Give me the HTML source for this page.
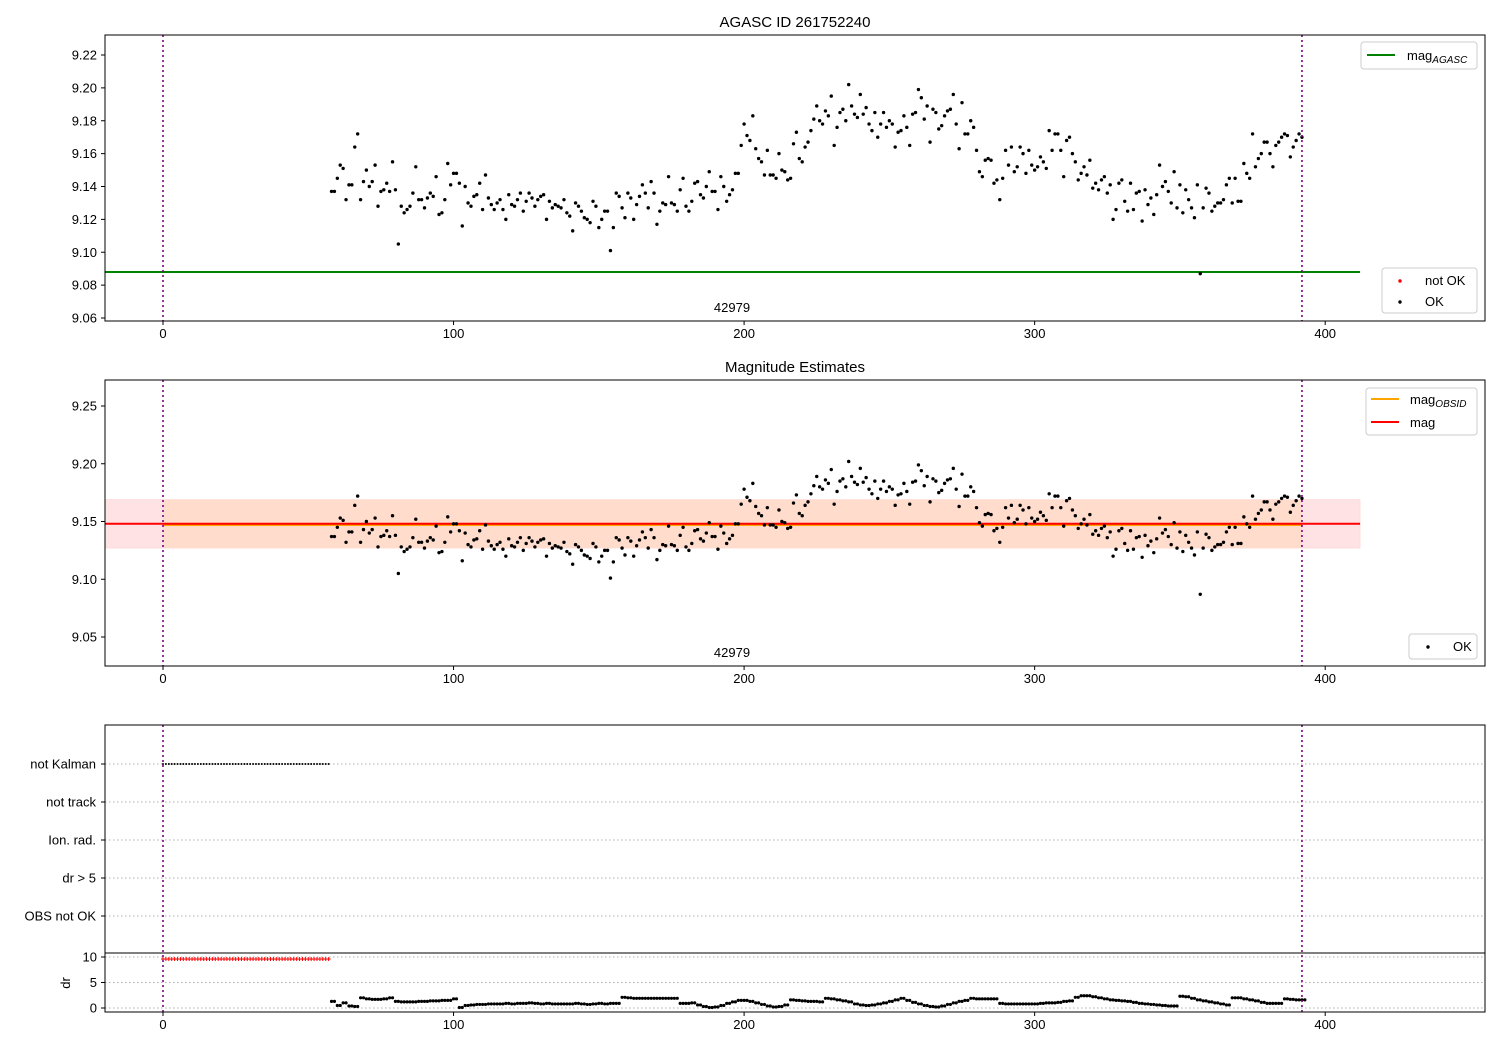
<!DOCTYPE html>
<html><head><meta charset="utf-8"><style>
body{margin:0;background:#fff;}
svg{display:block;font-family:"Liberation Sans","DejaVu Sans",sans-serif;}
</style></head><body>
<svg id="fig" width="1500" height="1050" xmlns="http://www.w3.org/2000/svg"></svg>
<script>
const magStart = 58, magEnd = 392;
const mags = [9.137,9.137,9.145,9.153,9.151,9.132,9.141,9.141,9.164,9.172,9.132,9.143,
9.150,9.140,9.143,9.153,9.128,9.137,9.138,9.142,9.137,9.155,9.138,
9.105,9.128,9.124,9.126,9.128,9.136,9.152,9.132,9.132,9.127,9.133,
9.136,9.134,9.146,9.123,9.124,9.132,9.154,9.141,9.148,9.148,9.142,
9.116,9.140,9.130,9.128,9.134,9.135,9.142,9.126,9.147,9.133,9.129,
9.126,9.130,9.132,9.126,9.120,9.135,9.129,9.128,9.132,9.136,
9.125,9.131,9.136,9.133,9.128,9.132,9.134,9.135,9.120,9.131,9.127,
9.129,9.128,9.127,9.132,9.124,9.122,9.113,9.130,9.128,9.125,9.121,
9.120,9.118,9.131,9.128,9.115,9.120,9.125,9.125,9.101,9.115,
9.136,9.134,9.127,9.121,9.136,9.133,9.120,9.129,9.134,9.141,9.136,
9.127,9.143,9.136,9.117,9.125,9.130,9.129,9.146,9.130,9.129,
9.125,9.138,9.145,9.128,9.125,9.131,9.142,9.143,9.135,9.133,9.140,
9.149,9.137,9.137,9.126,9.146,9.140,9.131,9.135,9.138,9.148,
9.148,9.165,9.178,9.171,9.168,9.183,9.163,9.157,9.155,9.147,
9.162,9.147,9.147,9.145,9.160,9.150,9.149,9.144,9.145,9.166,
9.173,9.157,9.155,9.164,9.167,9.174,9.181,9.189,9.180,9.178,
9.186,9.183,9.195,9.165,9.176,9.185,9.187,9.180,9.202,9.189,9.184,
9.182,9.196,9.184,9.188,9.178,9.174,9.185,9.170,9.178,9.185,
9.176,9.180,9.178,9.164,9.173,9.174,9.183,9.176,9.165,9.184,
9.185,9.199,9.194,9.181,9.189,9.167,9.187,9.185,9.175,9.177,9.183,
9.186,9.187,9.196,9.178,9.163,9.191,9.172,9.172,9.180,9.176,
9.162,9.149,9.146,9.156,9.157,9.156,9.142,9.144,9.132,9.145,
9.162,9.153,9.164,9.149,9.152,9.164,9.160,9.148,9.162,9.153,9.150,
9.152,9.158,9.155,9.151,9.174,9.162,9.172,9.172,9.162,9.146,
9.168,9.170,9.160,9.155,9.144,9.148,9.152,9.147,9.156,9.139,9.142,
9.138,9.144,9.146,9.136,9.141,9.120,9.126,9.142,9.144,9.131,
9.125,9.142,9.126,9.136,9.137,9.119,9.138,9.129,9.133,9.123,9.135,
9.153,9.140,9.143,9.137,9.130,9.149,9.127,9.141,9.124,9.138,
9.132,9.127,9.121,9.141,9.087,9.127,9.139,9.136,9.125,9.128,
9.130,9.130,9.132,9.141,9.145,9.130,9.145,9.131,9.131,9.154,
9.148,9.145,9.172,9.152,9.157,9.160,9.167,9.167,9.160,9.152,
9.165,9.167,9.170,9.172,9.171,9.158,9.164,9.168,9.172,9.170];
const drVals = [1.3,0.5,1.0,0.4,0.3,2.0,1.8,1.7,1.7,1.8,2.0,1.3,1.2,1.2,1.2,1.3,1.3,1.4,1.4,1.5,1.5,1.8,0.1,0.5,0.6,0.7,0.7,0.8,0.8,0.8,0.9,0.8,0.9,0.9,1.0,0.9,0.8,0.9,0.8,0.8,0.8,0.8,0.9,0.8,0.7,0.8,0.9,0.8,0.9,0.9,2.1,2.0,1.9,1.9,1.9,1.9,1.9,1.9,1.9,1.9,0.9,0.9,1.0,0.6,0.3,0.1,0.2,0.5,0.9,1.2,1.5,1.5,1.3,1.0,0.7,0.4,0.2,0.3,0.6,1.6,1.5,1.4,1.3,1.3,1.2,1.9,1.8,1.6,1.4,1.2,0.8,0.6,0.5,0.6,0.8,1.0,1.3,1.6,1.9,1.5,1.1,0.8,0.5,0.3,0.2,0.4,0.7,1.0,1.3,1.5,1.9,1.8,1.8,1.8,1.8,0.9,0.8,0.8,0.8,0.8,0.8,0.8,0.9,1.0,1.0,1.1,1.3,1.4,2.1,2.4,2.4,2.2,2.0,1.8,1.6,1.5,1.4,1.3,1.1,0.9,0.8,0.7,0.6,0.5,0.4,0.4,2.3,2.2,1.9,1.6,1.4,1.2,1.0,0.8,0.6,2.0,2.0,1.8,1.6,1.4,1.1,0.9,0.9,0.9,1.8,1.7,1.6,1.6];
const notKalmanStart = 0, notKalmanEnd = 57;
const notKalmanDr = 9.6;
const magAgasc = 9.088;
const magObsid = 9.148;
const magBandLo = 9.127, magBandHi = 9.169;
const categories = ["not Kalman","not track","Ion. rad.","dr > 5","OBS not OK"];
const xTicks = [0,100,200,300,400];
const y1Ticks = [9.06,9.08,9.10,9.12,9.14,9.16,9.18,9.20,9.22];
const y2Ticks = [9.05,9.10,9.15,9.20,9.25];
const drTicks = [0,5,10];

const NS="http://www.w3.org/2000/svg";
const svg=document.getElementById('fig');
function el(tag,attrs,parent){const e=document.createElementNS(NS,tag);for(const k in attrs)e.setAttribute(k,attrs[k]);(parent||svg).appendChild(e);return e;}
function txt(s,attrs){const t=el('text',attrs);t.textContent=s;return t;}
const L=105,R=1485;
const xs=v=>163+(v)*2.9055;
const y1=v=>55+(9.22-v)/0.02*32.875;
const y2=v=>406+(9.25-v)/0.05*57.75;
const yd=v=>1008-v*5.1;

function frame(top,bot,name){const r=el('rect',{x:L,y:top,width:R-L,height:bot-top,fill:'none',stroke:'#000','stroke-width':1});}
function xticks(bot,name){const g=el('g',{});
 xTicks.forEach(v=>{el('line',{x1:xs(v),x2:xs(v),y1:bot,y2:bot+4,stroke:'#000'},g);const t=el('text',{x:xs(v),y:bot+17,'text-anchor':'middle','font-size':13},g);t.textContent=v;});}
function yticks(ticks,f,fmt,name){const g=el('g',{});
 ticks.forEach(v=>{el('line',{x1:L-4,x2:L,y1:f(v),y2:f(v),stroke:'#000'},g);const t=el('text',{x:L-8,y:f(v)+4.5,'text-anchor':'end','font-size':13},g);t.textContent=fmt(v);});}
function dots(f,name){const g=el('g',{fill:'#000'});
 const n=mags.length;mags.forEach((m,i)=>{const x=magStart+(magEnd-magStart)*i/(n-1);el('circle',{cx:xs(x),cy:f(m),r:1.7},g);});}
function vlines(top,bot){[0,magEnd].forEach(v=>{const l=el('line',{x1:xs(v),x2:xs(v),y1:top,y2:bot,stroke:'#800080','stroke-width':1.6,'stroke-dasharray':'2,3'});});}

// Panel 1
txt('AGASC ID 261752240',{x:795,y:27,'text-anchor':'middle','font-size':15,});
const ga=el('line',{x1:L,x2:xs(412),y1:y1(magAgasc),y2:y1(magAgasc),stroke:'#008000','stroke-width':2});

dots(y1,'ok-points-top');
vlines(35,321);
frame(35,321,'axes-top');xticks(321,'x-ticks-top');yticks(y1Ticks,y1,v=>v.toFixed(2),'y-ticks-top');
txt('42979',{x:732,y:312,'text-anchor':'middle','font-size':13,});
function legendBox(x,y,w,h,name){const r=el('rect',{x:x,y:y,width:w,height:h,rx:3,fill:'#fff','fill-opacity':0.8,stroke:'#ccc'});}
legendBox(1361,42,116,27,'legend-top');
el('line',{x1:1367,x2:1395,y1:55,y2:55,stroke:'#008000','stroke-width':2});
const t1=txt('mag',{x:1407,y:60,'font-size':13});const s1=el('tspan',{'font-size':10,'font-style':'italic',dy:3});s1.textContent='AGASC';t1.appendChild(s1);
legendBox(1382,268,95,45,'legend-status');
el('circle',{cx:1400,cy:281,r:1.7,fill:'red'});txt('not OK',{x:1425,y:285,'font-size':13});
el('circle',{cx:1400,cy:302,r:1.7,fill:'#000'});txt('OK',{x:1425,y:306,'font-size':13});

// Panel 2
txt('Magnitude Estimates',{x:795,y:372,'text-anchor':'middle','font-size':15,});
const b1=el('rect',{x:L,y:y2(magBandHi),width:xs(412)-L,height:y2(magBandLo)-y2(magBandHi),fill:'#ffe2e4',stroke:'#ffcccc','stroke-width':0.5});

const b2=el('rect',{x:xs(0),y:y2(magBandHi),width:xs(magEnd)-xs(0),height:y2(magBandLo)-y2(magBandHi),fill:'#ffdccc'});

const lo=el('line',{x1:xs(0),x2:xs(magEnd),y1:y2(magObsid)+1.2,y2:y2(magObsid)+1.2,stroke:'orange','stroke-width':2});

const lr=el('line',{x1:L,x2:xs(412),y1:y2(magObsid),y2:y2(magObsid),stroke:'red','stroke-width':2});

dots(y2,'ok-points-mid');
vlines(380,666);
frame(380,666,'axes-mid');xticks(666,'x-ticks-mid');yticks(y2Ticks,y2,v=>v.toFixed(2),'y-ticks-mid');
txt('42979',{x:732,y:657,'text-anchor':'middle','font-size':13,});
legendBox(1366,388,111,47,'legend-mid');
el('line',{x1:1371,x2:1399,y1:399,y2:399,stroke:'orange','stroke-width':2});
const t2=txt('mag',{x:1410,y:404,'font-size':13});const s2=el('tspan',{'font-size':10,'font-style':'italic',dy:3});s2.textContent='OBSID';t2.appendChild(s2);
el('line',{x1:1371,x2:1399,y1:422,y2:422,stroke:'red','stroke-width':2});txt('mag',{x:1410,y:427,'font-size':13});
legendBox(1409,634,68,25,'legend-ok');
el('circle',{cx:1428,cy:647,r:1.7,fill:'#000'});txt('OK',{x:1453,y:651,'font-size':13});

// Panel 3 flags
const catY=i=>764+i*38;
const gg=el('g',{});
categories.forEach((c,i)=>{el('line',{x1:L,x2:R,y1:catY(i),y2:catY(i),stroke:'#b0b0b0','stroke-dasharray':'1.5,2.5'},gg);
 el('line',{x1:L-4,x2:L,y1:catY(i),y2:catY(i),stroke:'#000'},gg);
 const t=el('text',{x:L-9,y:catY(i)+4.5,'text-anchor':'end','font-size':13},gg);t.textContent=c;});
const nk=el('g',{fill:'#000'});
for(let t=notKalmanStart;t<=notKalmanEnd;t++){el('circle',{cx:xs(t),cy:catY(0),r:1},nk);}
const dg=el('g',{});
drTicks.forEach(v=>{el('line',{x1:L,x2:R,y1:yd(v),y2:yd(v),stroke:'#b0b0b0','stroke-dasharray':'1.5,2.5'},dg);});
const rd=el('g',{stroke:'red','stroke-width':1});
for(let t=notKalmanStart;t<=notKalmanEnd;t++){const x=xs(t),y=yd(notKalmanDr);el('line',{x1:x-2,x2:x+2,y1:y,y2:y},rd);el('line',{x1:x,x2:x,y1:y-2,y2:y+2},rd);}
const dd=el('g',{fill:'#000'});
drVals.forEach((v,i)=>{const t=magStart+i*2;el('circle',{cx:xs(t),cy:yd(v),r:1.6},dd);el('circle',{cx:xs(t+1),cy:yd(v),r:1.6},dd);});
vlines(725,1012);
frame(725,1012,'axes-flags');
const sep=el('line',{x1:L,x2:R,y1:953,y2:953,stroke:'#000'});
xticks(1012,'x-ticks-bottom');yticks(drTicks,yd,v=>v,'y-ticks-dr');
txt('dr',{x:0,y:0,'font-size':13,transform:'translate(70,983) rotate(-90)','text-anchor':'middle',});
</script>
</body></html>
